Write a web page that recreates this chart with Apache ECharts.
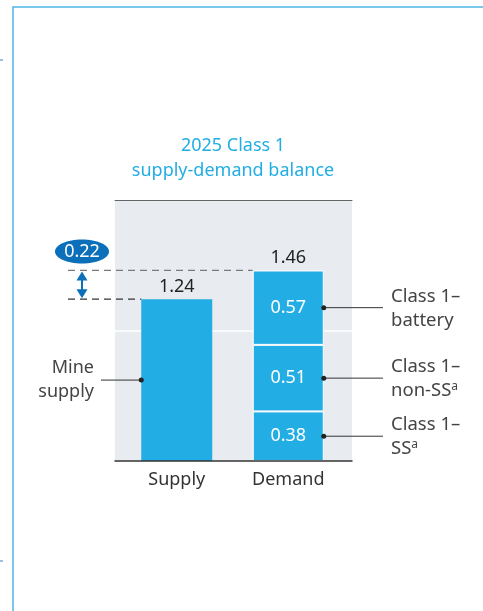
<!DOCTYPE html>
<html>
<head>
<meta charset="utf-8">
<script src="https://cdn.jsdelivr.net/npm/echarts@6/dist/echarts.min.js"></script>
<style>
  html, body { margin: 0; padding: 0; background: #fff; }
  #main { width: 483px; height: 611px; }
</style>
</head>
<body>
<div id="main"></div>
<script>
// 2025 Class 1 supply-demand balance

const categories = ['Supply', 'Demand'];
const supplyValues = [1.24, '-'];
const ssValues = ['-', 0.38];
const nonSsValues = ['-', 0.51];
const batteryValues = ['-', 0.57];
const yTicks = [0, 1, 2];
const segmentNames = ['Class 1–\nbattery', 'Class 1–\nnon-SS{sup|a}', 'Class 1–\nSS{sup|a}'];
const supplyName = 'Mine\nsupply';

const FONT = 'Noto Sans';
const BLUE = '#22ade4';
const DARK_BLUE = '#0b6fba';
const BAR_W = 71;

const supplyTotal = supplyValues[0];
const demandTotal = ssValues[1] + nonSsValues[1] + batteryValues[1];
const gap = Math.round((demandTotal - supplyTotal) * 100) / 100;

const chart = echarts.init(document.getElementById('main'));

function segLabel() {
  return {
    show: true,
    position: 'inside',
    color: '#fff',
    fontSize: 18,
    fontFamily: FONT,
    formatter: p => p.value.toFixed(2),
  };
}

chart.setOption({
  animation: false,
  backgroundColor: '#fff',
  title: {
    text: '2025 Class 1\nsupply-demand balance',
    left: 233,
    textAlign: 'center',
    top: 133,
    padding: 0,
    textStyle: { color: BLUE, fontSize: 18, fontWeight: 'normal', fontFamily: FONT, lineHeight: 25 },
  },
  grid: [
    { left: 115, top: 200, width: 237, height: 261, show: true, backgroundColor: '#e8ecf0', borderWidth: 0 },
    { left: 121, top: 200, width: 223, height: 261 },
  ],
  xAxis: [
    {
      gridIndex: 0, type: 'category', data: categories, position: 'bottom', z: 3,
      axisLine: { lineStyle: { color: '#333', width: 1.5 } },
      axisTick: { show: false }, axisLabel: { show: false },
    },
    {
      gridIndex: 0, type: 'category', data: categories, position: 'top', z: 3,
      axisLine: { lineStyle: { color: '#666', width: 1 } },
      axisTick: { show: false }, axisLabel: { show: false },
    },
    {
      gridIndex: 1, type: 'category', data: categories,
      axisLine: { show: false }, axisTick: { show: false },
      axisLabel: { color: '#333', fontSize: 18, fontFamily: FONT, margin: 10 },
    },
  ],
  yAxis: [
    {
      gridIndex: 0, type: 'value', min: yTicks[0], max: yTicks[yTicks.length - 1], interval: 1,
      axisLine: { show: false }, axisTick: { show: false }, axisLabel: { show: false },
      splitLine: { lineStyle: { color: '#fff', width: 1.5 } },
    },
    {
      gridIndex: 1, type: 'value', min: yTicks[0], max: yTicks[yTicks.length - 1], show: false,
    },
  ],
  series: [
    {
      name: 'Mine supply', type: 'bar', stack: 'total', xAxisIndex: 2, yAxisIndex: 1,
      barWidth: BAR_W, data: supplyValues,
      itemStyle: { color: BLUE },
      label: {
        show: true, position: 'top', distance: 3, color: '#222', fontSize: 18, fontFamily: FONT,
        formatter: p => p.value.toFixed(2),
      },
    },
    {
      name: 'Class 1-SS', type: 'bar', stack: 'total', xAxisIndex: 2, yAxisIndex: 1,
      barWidth: BAR_W, data: ssValues,
      itemStyle: { color: BLUE, borderColor: '#fff', borderWidth: 1 },
      label: segLabel(),
    },
    {
      name: 'Class 1-non-SS', type: 'bar', stack: 'total', xAxisIndex: 2, yAxisIndex: 1,
      barWidth: BAR_W, data: nonSsValues,
      itemStyle: { color: BLUE, borderColor: '#fff', borderWidth: 1 },
      label: segLabel(),
    },
    {
      name: 'Class 1-battery', type: 'bar', stack: 'total', xAxisIndex: 2, yAxisIndex: 1,
      barWidth: BAR_W, data: batteryValues,
      itemStyle: { color: BLUE, borderColor: '#fff', borderWidth: 1 },
      label: segLabel(),
    },
  ],
});

// annotations placed through the chart's own scales
const px = (i, v) => chart.convertToPixel({ gridIndex: 1 }, [i, v]);
const supTop = px(0, supplyTotal);
const demTop = px(1, demandTotal);
const supLeft = supTop[0] - BAR_W / 2;
const demLeft = demTop[0] - BAR_W / 2;
const demRight = demTop[0] + BAR_W / 2;
const arrowX = 82;

const g = [];
// outer frame
g.push({ type: 'rect', shape: { x: 13, y: 7, width: 600, height: 700 }, style: { fill: 'none', stroke: '#4db8e8', lineWidth: 1.5 } });
g.push({ type: 'line', shape: { x1: 0, y1: 60, x2: 3, y2: 60 }, style: { stroke: '#3a80c4', lineWidth: 1 } });
g.push({ type: 'line', shape: { x1: 0, y1: 561, x2: 3, y2: 561 }, style: { stroke: '#3a80c4', lineWidth: 1 } });

// total label on demand bar
g.push({
  type: 'text', x: demTop[0], y: demTop[1] - 13, z: 10,
  style: { text: demandTotal.toFixed(2), fill: '#222', fontSize: 18, fontFamily: FONT, align: 'center', verticalAlign: 'middle' },
});

// dashed reference lines
g.push({ type: 'line', z: 10, shape: { x1: 68, y1: demTop[1], x2: demLeft, y2: demTop[1] }, style: { stroke: '#7a7a7a', lineWidth: 1.2, lineDash: [7, 5] } });
g.push({ type: 'line', z: 10, shape: { x1: 68, y1: supTop[1], x2: supLeft, y2: supTop[1] }, style: { stroke: '#333', lineWidth: 1.2, lineDash: [7, 5] } });

// double arrow
const a1 = demTop[1] + 1, a2 = supTop[1] - 1;
g.push({ type: 'line', z: 10, shape: { x1: arrowX, y1: a1 + 6, x2: arrowX, y2: a2 - 6 }, style: { stroke: DARK_BLUE, lineWidth: 2 } });
g.push({ type: 'polygon', z: 10, shape: { points: [[arrowX, a1], [arrowX - 5.5, a1 + 9], [arrowX + 5.5, a1 + 9]] }, style: { fill: DARK_BLUE } });
g.push({ type: 'polygon', z: 10, shape: { points: [[arrowX, a2], [arrowX - 5.5, a2 - 9], [arrowX + 5.5, a2 - 9]] }, style: { fill: DARK_BLUE } });

// gap bubble
g.push({ type: 'ellipse', z: 10, shape: { cx: arrowX, cy: demTop[1] - 19, rx: 27, ry: 12 }, style: { fill: DARK_BLUE } });
g.push({
  type: 'text', z: 11, x: arrowX, y: demTop[1] - 19,
  style: { text: gap.toFixed(2), fill: '#fff', fontSize: 18, fontFamily: FONT, align: 'center', verticalAlign: 'middle' },
});

// mine supply callout
const supMid = px(0, supplyTotal / 2);
g.push({ type: 'line', z: 10, shape: { x1: 101, y1: supMid[1], x2: supLeft, y2: supMid[1] }, style: { stroke: '#333', lineWidth: 1 } });
g.push({ type: 'circle', z: 10, shape: { cx: supLeft, cy: supMid[1], r: 2.5 }, style: { fill: '#222' } });
g.push({
  type: 'text', z: 10, x: 94, y: supMid[1],
  style: { text: supplyName, fill: '#444', fontSize: 18, fontFamily: FONT, lineHeight: 24, align: 'right', verticalAlign: 'middle' },
});

// demand segment callouts
const mids = [
  ssValues[1] + nonSsValues[1] + batteryValues[1] / 2,
  ssValues[1] + nonSsValues[1] / 2,
  ssValues[1] / 2,
];
mids.forEach((m, i) => {
  const p = px(1, m);
  g.push({ type: 'line', z: 10, shape: { x1: demRight, y1: p[1], x2: 383, y2: p[1] }, style: { stroke: '#333', lineWidth: 1 } });
  g.push({ type: 'circle', z: 10, shape: { cx: demRight, cy: p[1], r: 2.5 }, style: { fill: '#222' } });
  g.push({
    type: 'text', z: 10, x: 391, y: p[1] + 1,
    style: {
      text: segmentNames[i], fill: '#444', fontSize: 18.5, fontFamily: FONT, lineHeight: 24,
      align: 'left', verticalAlign: 'middle',
      rich: { sup: { fontSize: 12, fontFamily: FONT, fill: '#444', padding: [0, 0, 9, 0] } },
    },
  });
});

chart.setOption({ graphic: g });
</script>
</body>
</html>
